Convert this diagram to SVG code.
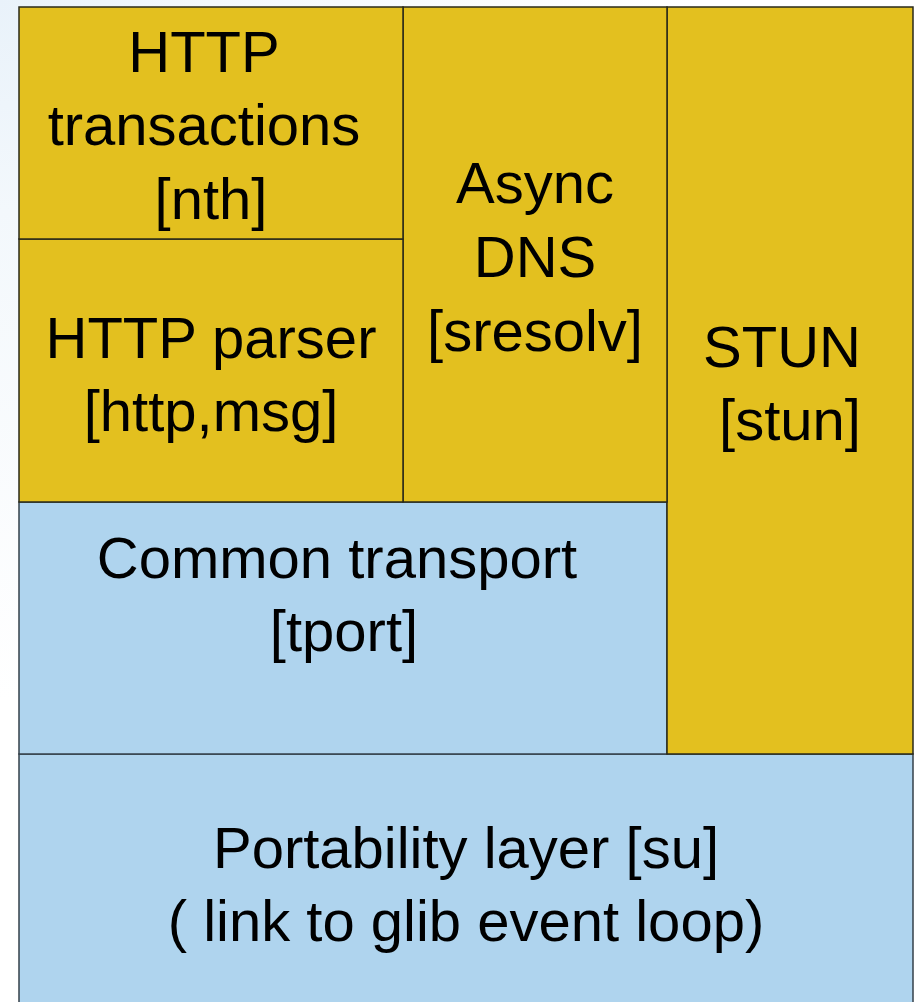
<svg xmlns="http://www.w3.org/2000/svg" width="915" height="1002" viewBox="0 0 915 1002">
<defs>
<radialGradient id="bg" cx="0" cy="0" r="700" gradientUnits="userSpaceOnUse">
<stop offset="0" stop-color="#e9f2fa"/>
<stop offset="0.3" stop-color="#f3f8fc"/>
<stop offset="1" stop-color="#ffffff"/>
</radialGradient>
<style>
.y{fill:#e3c01f;stroke:#2a2a1a;stroke-width:1.5}
.b{fill:#afd4ee;stroke:#34404a;stroke-width:1.5}
text{font-family:"Liberation Sans",Arial,sans-serif;font-size:58px;fill:#000;text-anchor:middle}
</style>
</defs>
<rect x="0" y="0" width="915" height="1002" fill="url(#bg)"/>
<g id="su">
<rect class="b" x="19" y="754" width="894" height="260"/>
<text x="466" y="868">Portability layer [su]</text>
<text x="466" y="941">( link to glib event loop)</text>
</g>
<g id="tport">
<rect class="b" x="19" y="502" width="648" height="252"/>
<text x="337" y="578">Common transport</text>
<text x="344" y="651">[tport]</text>
</g>
<g id="stun">
<rect class="y" x="667" y="7" width="246" height="747"/>
<text x="782" y="367">STUN</text>
<text x="790" y="440">[stun]</text>
</g>
<g id="sresolv">
<rect class="y" x="403" y="7" width="264" height="495"/>
<text x="535" y="203">Async</text>
<text x="535" y="277">DNS</text>
<text x="535" y="351">[sresolv]</text>
</g>
<g id="http">
<rect class="y" x="19" y="239" width="384" height="263"/>
<text x="211" y="358">HTTP parser</text>
<text x="211" y="431">[http,msg]</text>
</g>
<g id="nth">
<rect class="y" x="19" y="7" width="384" height="232"/>
<text x="204" y="72">HTTP</text>
<text x="204" y="145">transactions</text>
<text x="211" y="219">[nth]</text>
</g>
<g id="connectors"></g>
</svg>
